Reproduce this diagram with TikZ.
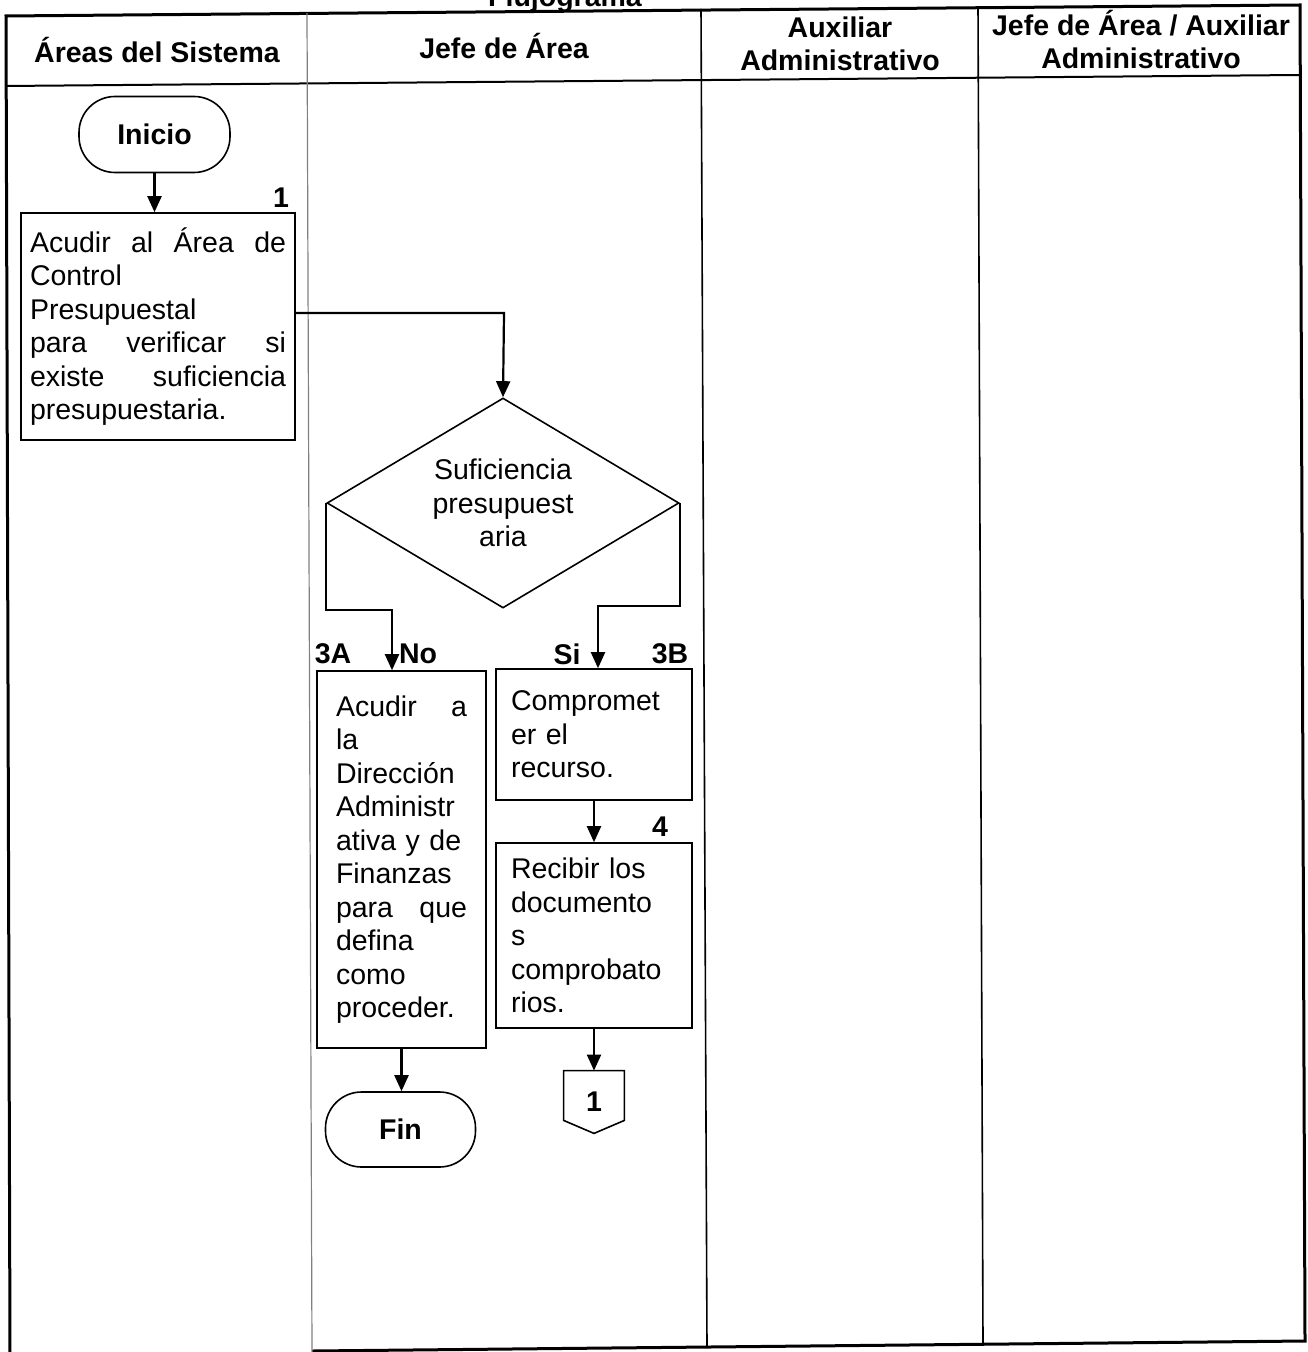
\documentclass[tikz,border=0pt]{standalone}
\usepackage{fontspec}
\setmainfont{Liberation Sans}
\usetikzlibrary{shapes.geometric,arrows.meta}
\newcommand{\txtfont}{\fontsize{14.25pt}{16.75pt}\selectfont}
\begin{document}
\begin{tikzpicture}[x=0.5pt,y=-0.5pt,
  every node/.style={font=\txtfont},
  hdr/.style={font=\fontsize{14.25pt}{16.5pt}\selectfont\bfseries, align=center, inner sep=0pt},
  tag/.style={font=\txtfont\bfseries, inner sep=0pt},
  procbox/.style={draw, line width=0.8pt, align=left, inner ysep=0pt},
  term/.style={draw, line width=0.8pt, rounded corners=18pt, font=\txtfont\bfseries, inner sep=0pt},
  flow/.style={line width=1.1pt, -{Triangle[length=8pt,width=7pt]}},
  frame/.style={line width=1.5pt},
  sep/.style={line width=0.8pt},
]
\useasboundingbox (0,0) rectangle (1307,1352);
\clip (0,0) rectangle (1307,1352);

% title (cut by the page edge)
\node[anchor=base, font=\txtfont\bfseries, inner sep=0pt] (title) at (565,7) {Flujograma};

% table frame
\coordinate (tl) at (6,16);
\coordinate (tr) at (1300,5);
\coordinate (br) at (1305,1341);
\coordinate (bl) at (10,1352);
\draw[frame] (bl) -- (tl) -- (tr) -- (br) -- (312,1351);
\draw[line width=1pt] (6,86) -- (1300,75);
\draw[gray, line width=0.6pt] (307,13) -- (312,1352);
\draw[sep] (701,9) -- (707,1348);
\draw[sep] (978,7) -- (983,1345);

% column headers
\node[hdr] (h1) at (157,50) {Áreas del Sistema};
\node[hdr] (h2) at (504,46) {Jefe de Área};
\node[hdr] (h3) at (840,44) {Auxiliar\\Administrativo};
\node[hdr] (h4) at (1141,40) {Jefe de Área / Auxiliar\\Administrativo};

% flow chart
\node[term, minimum width=75.5pt, minimum height=38pt] (inicio) at (154.5,134.5) {Inicio};

\node[procbox, text width=128pt, inner xsep=4.5pt, minimum height=113.5pt] (b1) at (158,326.5)
  {Acudir\hfill al\hfill Área\hfill de\\Control\\Presupuestal\\para\hfill verificar\hfill si\\existe\hfill suficiencia\\presupuestaria.};
\node[tag] (n1) at (281,198) {1};

\node[draw, diamond, line width=0.8pt, inner sep=0pt, aspect=1.676, minimum width=176pt, minimum height=105pt, align=center] (dec) at (503,503)
  {Suficiencia\\presupuest\\aria};

\node[procbox, text width=65.5pt, inner xsep=9.5pt, minimum height=188.5pt] (b3a) at (401.5,859.5)
  {Acudir\hfill a\\la\\Dirección\\Administr\\ativa y de\\Finanzas\\para\hfill que\\defina\\como\\proceder.};
\node[procbox, text width=83pt, inner xsep=7.5pt, minimum height=65.5pt] (b3b) at (594,734.5)
  {Compromet\\er el\\recurso.};
\node[procbox, text width=83pt, inner xsep=7.5pt, minimum height=92.5pt] (b4) at (594,935.5)
  {Recibir los\\documento\\s\\comprobato\\rios.};

\node[tag] (l3a) at (333,654) {3A};
\node[tag] (lno) at (418,654) {No};
\node[tag] (lsi) at (567,654) {Si};
\node[tag] (l3b) at (670,654) {3B};
\node[tag] (n4) at (660,827) {4};

\node[term, minimum width=75pt, minimum height=37.5pt] (fin) at (400.5,1129.5) {Fin};

\node[inner sep=0pt, minimum width=30pt, minimum height=31pt, font=\txtfont\bfseries] (conn) at (594,1102) {1};
\draw[line width=0.8pt] (conn.north west) -- (conn.north east) -- ([yshift=6.5pt]conn.south east)
  -- (conn.south) -- ([yshift=6.5pt]conn.south west) -- cycle;

% connectors
\coordinate (j1) at (504,313);
\coordinate (kA) at (392,610);
\coordinate (kB) at (598,606);
\draw[flow] (inicio.south) -- (inicio.south |- b1.north);
\draw[flow] (b1.east |- j1) -- (j1) -- (dec.north);
\draw[flow] (dec.west) |- (kA) -- (kA |- b3a.north);
\draw[flow] (dec.east) |- (kB) -- (kB |- b3b.north);
\draw[flow] (b3b.south) -- (b4.north);
\draw[flow] (b4.south) -- (conn.north);
\draw[flow] (b3a.south) -- (b3a.south |- fin.north);
\end{tikzpicture}
\end{document}
